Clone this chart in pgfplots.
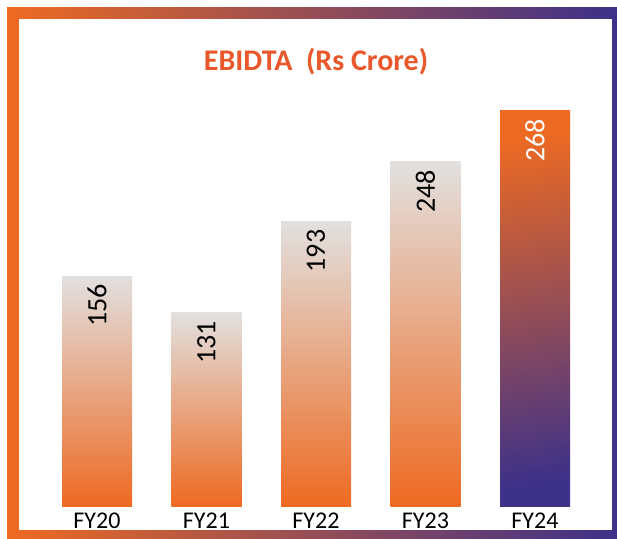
\documentclass[border=0pt]{standalone}
\usepackage{fontspec}
\setmainfont{Carlito}
\usepackage{pgfplots}
\pgfplotsset{compat=1.18}
\definecolor{orangeC}{HTML}{EE6A22}
\definecolor{purpleC}{HTML}{3D3189}
\definecolor{grayC}{HTML}{E2E0DF}
\definecolor{titleC}{HTML}{E8582A}
\begin{document}
\begin{tikzpicture}
\path[use as bounding box] (0pt,0pt) rectangle (617pt,538pt);
\shade[left color=orangeC, right color=purpleC] (7pt,0pt) rectangle (617pt,530pt);
\fill[white] (19pt,8pt) rectangle (612pt,519pt);
\node[font=\fontsize{30}{36}\selectfont\bfseries, text=titleC] at (316pt,476pt) {EBIDTA\ \ (Rs Crore)};
\begin{axis}[
  at={(42.25pt,32pt)}, anchor=south west,
  scale only axis, width=547.5pt, height=442.2pt,
  xmin=-0.5, xmax=4.5, ymin=0, ymax=300,
  ybar, bar width=70pt,
  hide y axis,
  axis x line*=bottom,
  x axis line style={draw=none},
  major tick length=0pt,
  xtick={0,1,2,3,4},
  xticklabels={FY20,FY21,FY22,FY23,FY24},
  xticklabel style={font=\fontsize{24}{28}\selectfont, anchor=north, inner sep=0pt, yshift=-6.6pt},
  point meta=explicit symbolic,
  nodes near coords,
  every node near coord/.append style={font=\fontsize{28}{32}\selectfont, rotate=90, anchor=east, inner xsep=8pt, inner ysep=0pt},
  lightbar/.style={ybar, bar shift=0pt, draw=none, top color=grayC, bottom color=orangeC,
    every node near coord/.append style={text=black}},
]
\addplot[lightbar] coordinates {(0,156) [156]};
\addplot[lightbar] coordinates {(1,131) [131]};
\addplot[lightbar] coordinates {(2,193) [193]};
\addplot[lightbar] coordinates {(3,233.4) [248]};
\addplot[ybar, bar shift=0pt, draw=none, top color=orangeC, bottom color=purpleC, shading angle=10,
  every node near coord/.append style={text=white}]
  coordinates {(4,268) [268]};
\end{axis}
\end{tikzpicture}
\end{document}
